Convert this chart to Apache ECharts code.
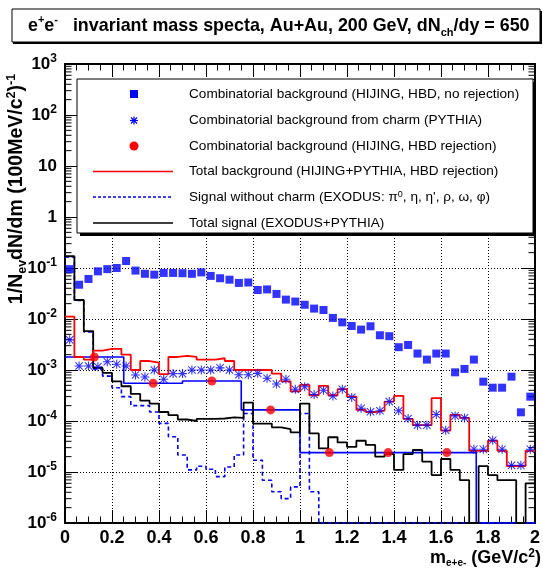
<!DOCTYPE html>
<html><head><meta charset="utf-8">
<script src="https://cdn.jsdelivr.net/npm/echarts@6/dist/echarts.min.js"></script>
<style>html,body{margin:0;padding:0;background:#fff}#c{width:543px;height:570px}</style>
</head><body><div id="c"></div>
<script>
// ---- data ----
// fine binning: 50 bins of 0.04 GeV/c^2 from 0 to 2
const binEdges = Array.from({length: 51}, (_, i) => +(i * 0.04).toFixed(2));
// Combinatorial background (HIJING, HBD, no rejection) - blue squares, per fine bin
const hijingNoRej = [0.095, 0.047, 0.061, 0.086, 0.095, 0.10, 0.137, 0.089, 0.077, 0.074,
  0.080, 0.080, 0.079, 0.077, 0.082, 0.070, 0.063, 0.059, 0.051, 0.052,
  0.037, 0.038, 0.031, 0.024, 0.022, 0.019, 0.016, 0.015, 0.0105, 0.0086,
  0.0073, 0.0062, 0.0072, 0.0048, 0.0046, 0.0028, 0.0031, 0.0021, 0.0016, 0.0021,
  0.0021, 0.0009, 0.00105, 0.0016, 0.00059, 0.00045, 0.00045, 0.00074, 0.000148, 0.0003];
// Combinatorial background from charm (PYTHIA) - blue asterisks
const charmBkg = [0.0039, 0.0012, 0.0012, 0.00116, 0.00145, 0.0013, 0.0012, 0.0008, 0.00073, 0.001,
  0.00066, 0.00085, 0.00085, 0.001, 0.001, 0.001, 0.0011, 0.001, 0.00081, 0.00081,
  0.00086, 0.00069, 0.00053, 0.00066, 0.00042, 0.00047, 0.00033, 0.0004, 0.00031, 0.00042,
  0.00029, 0.000178, 0.000152, 0.000159, 0.00024, 0.000159, 0.000112, 0.000083, 0.000083, 0.000134,
  0.000066, 0.000126, 0.000115, 0.000028, 0.000028, 0.000042, 0.000028, 0.0000135, 0.0000135, 0.000028];
// Total background (HIJING+PYTHIA, HBD rejection) - red histogram
const totalBkg = [0.0111, 0.0018, 0.0016, 0.0024, 0.0026, 0.0026, 0.0020, 0.0010, 0.0015, 0.0014,
  0.00083, 0.0018, 0.0019, 0.0018, 0.0016, 0.0016, 0.0017, 0.0015, 0.001, 0.001,
  0.001, 0.001, 0.00085, 0.0006, 0.00038, 0.00051, 0.00032, 0.00049, 0.00032, 0.00042,
  0.0003, 0.000165, 0.00015, 0.00016, 0.00024, 0.00031, 0.00011, 0.000083, 0.000083, 0.00028,
  0.000065, 0.000132, 0.000115, 0.000026, 0.000026, 0.000041, 0.000026, 0.0000131, 0.0000131, 0.000026];
// Total signal (EXODUS+PYTHIA) - black histogram
const totalSignal = [0.17, 0.0236, 0.0058, 0.0011, 0.00088, 0.0006, 0.00048, 0.00034, 0.00025, 0.00022,
  0.00015, 0.00013, 0.000107, 0.0001, 0.00011, 0.00011, 0.000112, 0.000118, 0.000115, 0.00023,
  0.000089, 0.000089, 0.000075, 0.000069, 0.00006, 0.00022, 0.000057, 0.000029, 0.000048, 0.000038,
  0.000031, 0.000041, 0.000034, 0.00002, 0.0000225, 0.000011, 0.0000225, 0.000027, 0.000016, 0.0000087,
  0.000018, 0.000011, 0.0000069, 0, 0.000013, 0.0000087, 0.0000069, 0.0000069, 0, 0.000006];
// Signal without charm (EXODUS) - blue dashed histogram
const signalNoCharm = [0.165, 0.023, 0.0056, 0.00105, 0.00076, 0.00045, 0.0003, 0.0002, 0.0002, 0.00015,
  0.00009, 0.000049, 0.0000215, 0.000011, 0.000013, 0.0000113, 0.0000081, 0.0000125, 0.0000215, 0.00014,
  0.000017, 0.0000069, 0.0000041, 0.000003, 0.0000051, 0.00014, 0.0000041, 0, 0, 0,
  0, 0, 0, 0, 0, 0, 0, 0, 0, 0,
  0, 0, 0, 0, 0, 0, 0, 0, 0, 0];
// Combinatorial background (HIJING, HBD rejection) - wide bins, blue line + red dots
const wideEdges = [0, 0.25, 0.5, 0.75, 1.0, 1.25, 1.5, 1.75, 2.0];
const hijingRej = [0.0018, 0.00055, 0.00061, 0.000165, 0.000024, 0.000024, 0.000024, 0];
const hijingRejDotX = [0.125, 0.375, 0.625, 0.875, 1.125, 1.375, 1.625];
const hijingRejDotY = [0.0018, 0.00055, 0.00061, 0.000165, 0.000024, 0.000024, 0.000024];
// axis
const xMin = 0, xMax = 2, xStep = 0.2;
const yMin = 1e-6, yMax = 1e3;

// ---- drawing ----
const FONT = '"Liberation Sans", Arial, Helvetica, sans-serif';
const FLOOR = yMin;
function stepData(edges, vals) {
  const d = vals.map((v, i) => [edges[i], Math.max(v, FLOOR)]);
  d.push([edges[edges.length - 1], Math.max(vals[vals.length - 1], FLOOR)]);
  return d;
}
const centers = binEdges.slice(0, -1).map((e, i) => +((e + binEdges[i + 1]) / 2).toFixed(3));
const minorVals = [];
for (let k = Math.round(Math.log10(yMin)); k < Math.round(Math.log10(yMax)); k++)
  for (let m = 2; m <= 9; m++) minorVals.push([0, m * Math.pow(10, k)]);

const STAR = 'path://M0 44L100 44L100 56L0 56Z M44 0L56 0L56 100L44 100Z M5 13L13 5L95 87L87 95Z M87 5L95 13L13 95L5 87Z';
const BLUE = '#0000ff', RED = '#ff0000';

const chart = echarts.init(document.getElementById('c'), null, {renderer: 'canvas'});

const legendItems = [
  {kind: 'square', text: 'Combinatorial background (HIJING, HBD, no rejection)'},
  {kind: 'star', text: 'Combinatorial background from charm (PYTHIA)'},
  {kind: 'circle', text: 'Combinatorial background (HIJING, HBD rejection)'},
  {kind: 'red', text: 'Total background (HIJING+PYTHIA, HBD rejection)'},
  {kind: 'dash', text: 'Signal without charm (EXODUS: π{sp|0}, η, η\', ρ, ω, φ)'},
  {kind: 'black', text: 'Total signal (EXODUS+PYTHIA)'}
];
const legG = [];
const LX = 77, LY = 79, LW = 456, LH = 154;
legG.push({type: 'rect', shape: {x: LX + 3, y: LY + 3, width: LW, height: LH}, style: {fill: '#000'}, z: 100});
legG.push({type: 'rect', shape: {x: LX, y: LY, width: LW, height: LH}, style: {fill: '#fff', stroke: '#000', lineWidth: 1}, z: 101});
const legY = [94, 120.5, 146, 171.5, 197, 223];
legendItems.forEach((it, i) => {
  const y = legY[i];
  if (it.kind === 'square') legG.push({type: 'rect', shape: {x: 130, y: y - 4, width: 8, height: 8}, style: {fill: BLUE}, z: 102});
  if (it.kind === 'circle') legG.push({type: 'circle', shape: {cx: 134, cy: y, r: 4.5}, style: {fill: RED}, z: 102});
  if (it.kind === 'star') {
    [[-4, 0, 4, 0], [0, -4, 0, 4], [-3, -3, 3, 3], [-3, 3, 3, -3]].forEach(s =>
      legG.push({type: 'line', shape: {x1: 134 + s[0], y1: y + s[1], x2: 134 + s[2], y2: y + s[3]}, style: {stroke: BLUE, lineWidth: 1.2}, z: 102}));
  }
  if (it.kind === 'red' || it.kind === 'black' || it.kind === 'dash') {
    legG.push({type: 'line', shape: {x1: 93, y1: y, x2: 173, y2: y},
      style: {stroke: it.kind === 'red' ? RED : it.kind === 'black' ? '#000' : BLUE, lineWidth: 1.5,
        lineDash: it.kind === 'dash' ? [3, 2] : null}, z: 102});
  }
  legG.push({type: 'text', x: 189, y: y, z: 102, style: {text: it.text, fontSize: 13.6, fontFamily: FONT, fill: '#000', verticalAlign: 'middle',
    rich: {sp: {fontSize: 9, verticalAlign: 'top', lineHeight: 10, fontFamily: FONT}}}});
});

const option = {
  animation: false,
  textStyle: {fontFamily: FONT},
  grid: {left: 65, top: 64, width: 474, height: 459, containLabel: false},
  xAxis: [
    {type: 'value', min: xMin, max: xMax, interval: xStep, position: 'bottom',
      axisLine: {show: true, onZero: false, lineStyle: {color: '#000', width: 2}},
      axisTick: {show: true, inside: true, length: 13, lineStyle: {color: '#000', width: 1}},
      minorTick: {show: true, splitNumber: 4, length: 6.5, lineStyle: {color: '#000', width: 1}},
      axisLabel: {show: true, margin: 6, fontSize: 18, fontWeight: 'bold', color: '#000', fontFamily: FONT,
        formatter: v => Math.abs(v - Math.round(v)) < 1e-9 ? String(Math.round(v)) : v.toFixed(1)},
      splitLine: {show: true, lineStyle: {color: '#000', width: 1, type: [1, 2]}}},
    {type: 'value', min: xMin, max: xMax, interval: xStep, position: 'top',
      axisLine: {show: true, onZero: false, lineStyle: {color: '#000', width: 2}},
      axisTick: {show: true, inside: true, length: 13, lineStyle: {color: '#000', width: 1}},
      minorTick: {show: true, splitNumber: 4, length: 6.5, lineStyle: {color: '#000', width: 1}},
      axisLabel: {show: false}, splitLine: {show: false}}
  ],
  yAxis: [
    {type: 'log', logBase: 10, min: yMin, max: yMax, splitNumber: 9, position: 'left',
      axisLine: {show: true, onZero: false, lineStyle: {color: '#000', width: 2}},
      axisTick: {show: true, inside: true, length: 13, lineStyle: {color: '#000', width: 1}},
      minorTick: {show: false},
      axisLabel: {show: true, margin: 8, color: '#000',
        formatter: v => {
          const e = Math.round(Math.log10(v));
          if (e === 0) return '{b|1}';
          if (e === 1) return '{b|10}';
          return '{b|10}{s|' + e + '}';
        },
        rich: {
          b: {fontSize: 17, fontWeight: 'bold', lineHeight: 22, fontFamily: FONT, color: '#000'},
          s: {fontSize: 12, fontWeight: 'bold', lineHeight: 13, verticalAlign: 'top', fontFamily: FONT, color: '#000'}
        }},
      splitLine: {show: true, lineStyle: {color: '#000', width: 1, type: [1, 2]}}},
    {type: 'log', logBase: 10, min: yMin, max: yMax, splitNumber: 9, position: 'right',
      axisLine: {show: true, onZero: false, lineStyle: {color: '#000', width: 2}},
      axisTick: {show: true, inside: true, length: 13, lineStyle: {color: '#000', width: 1}},
      axisLabel: {show: false}, splitLine: {show: false}}
  ],
  series: [
    {type: 'custom', name: 'yMinorTicks', coordinateSystem: 'cartesian2d', data: minorVals, silent: true, clip: false, z: 5,
      encode: {x: 0, y: 1},
      renderItem: (params, api) => {
        const v = api.value(1);
        const pL = api.coord([xMin, v]);
        const pR = api.coord([xMax, v]);
        return {type: 'group', children: [
          {type: 'line', shape: {x1: pL[0], y1: pL[1], x2: pL[0] + 6.5, y2: pL[1]}, style: {stroke: '#000', lineWidth: 1}},
          {type: 'line', shape: {x1: pR[0] - 6.5, y1: pR[1], x2: pR[0], y2: pR[1]}, style: {stroke: '#000', lineWidth: 1}}
        ]};
      }},
    {type: 'line', name: 'Signal without charm', step: 'end', data: stepData(binEdges, signalNoCharm), showSymbol: false, z: 3,
      lineStyle: {color: BLUE, width: 1.6, type: [4, 3]}},
    {type: 'line', name: 'HIJING rej', step: 'end', data: stepData(wideEdges, hijingRej), showSymbol: false, z: 3,
      lineStyle: {color: BLUE, width: 1.6}},
    {type: 'line', name: 'Total signal', step: 'end', data: stepData(binEdges, totalSignal), showSymbol: false, z: 4,
      lineStyle: {color: '#000', width: 1.8}},
    {type: 'line', name: 'Total background', step: 'end', data: stepData(binEdges, totalBkg), showSymbol: false, z: 4,
      lineStyle: {color: RED, width: 1.8}},
    {type: 'scatter', name: 'HIJING no rej', data: centers.map((c, i) => [c, hijingNoRej[i]]), symbol: 'rect', symbolSize: 8, z: 6,
      itemStyle: {color: BLUE}},
    {type: 'scatter', name: 'charm', data: centers.map((c, i) => [c, charmBkg[i]]), symbol: STAR, symbolSize: 9, z: 6,
      itemStyle: {color: BLUE}},
    {type: 'scatter', name: 'HIJING rej dots', data: hijingRejDotX.map((c, i) => [c, hijingRejDotY[i]]), symbol: 'circle', symbolSize: 9, z: 7,
      itemStyle: {color: RED}}
  ],
  graphic: [
    // title box
    {type: 'rect', shape: {x: 13, y: 11, width: 529, height: 33}, style: {fill: '#000'}, z: 100},
    {type: 'rect', shape: {x: 12, y: 9, width: 528, height: 33}, style: {fill: '#fff', stroke: '#000', lineWidth: 1}, z: 101},
    {type: 'text', x: 28, y: 26, z: 102, style: {
      text: '{m|e}{sp|+}{m|e}{sp|-}{m|   invariant mass specta, Au+Au, 200 GeV, dN}{sb|ch}{m|/dy = 650}',
      verticalAlign: 'middle', rich: {
        m: {fontSize: 17.9, fontWeight: 'bold', lineHeight: 24, fontFamily: FONT, fill: '#000'},
        sp: {fontSize: 11, fontWeight: 'bold', lineHeight: 14, verticalAlign: 'top', fontFamily: FONT, fill: '#000'},
        sb: {fontSize: 11, fontWeight: 'bold', lineHeight: 12, verticalAlign: 'bottom', fontFamily: FONT, fill: '#000'}
      }}},
    // y axis title
    {type: 'text', x: 17, y: 189, rotation: Math.PI / 2, z: 102, style: {
      text: '{m|1/N}{sb|ev}{m|dN/dm (100MeV/c}{sp|2}{m|)}{sp|-1}',
      align: 'center', verticalAlign: 'middle', rich: {
        m: {fontSize: 19.5, fontWeight: 'bold', lineHeight: 24, fontFamily: FONT, fill: '#000'},
        sp: {fontSize: 12.5, fontWeight: 'bold', lineHeight: 14, verticalAlign: 'top', fontFamily: FONT, fill: '#000'},
        sb: {fontSize: 12.5, fontWeight: 'bold', lineHeight: 14, verticalAlign: 'bottom', fontFamily: FONT, fill: '#000'}
      }}},
    // x axis title
    {type: 'text', x: 541, y: 558, z: 102, style: {
      text: '{m|m}{sb|e+e-}{m| (GeV/c}{sp|2}{m|)}',
      align: 'right', verticalAlign: 'middle', rich: {
        m: {fontSize: 18, fontWeight: 'bold', lineHeight: 20, fontFamily: FONT, fill: '#000'},
        sp: {fontSize: 12, fontWeight: 'bold', lineHeight: 12, verticalAlign: 'top', fontFamily: FONT, fill: '#000'},
        sb: {fontSize: 10, fontWeight: 'bold', lineHeight: 10, verticalAlign: 'bottom', fontFamily: FONT, fill: '#000'}
      }}}
  ].concat(legG)
};
chart.setOption(option);
</script></body></html>
